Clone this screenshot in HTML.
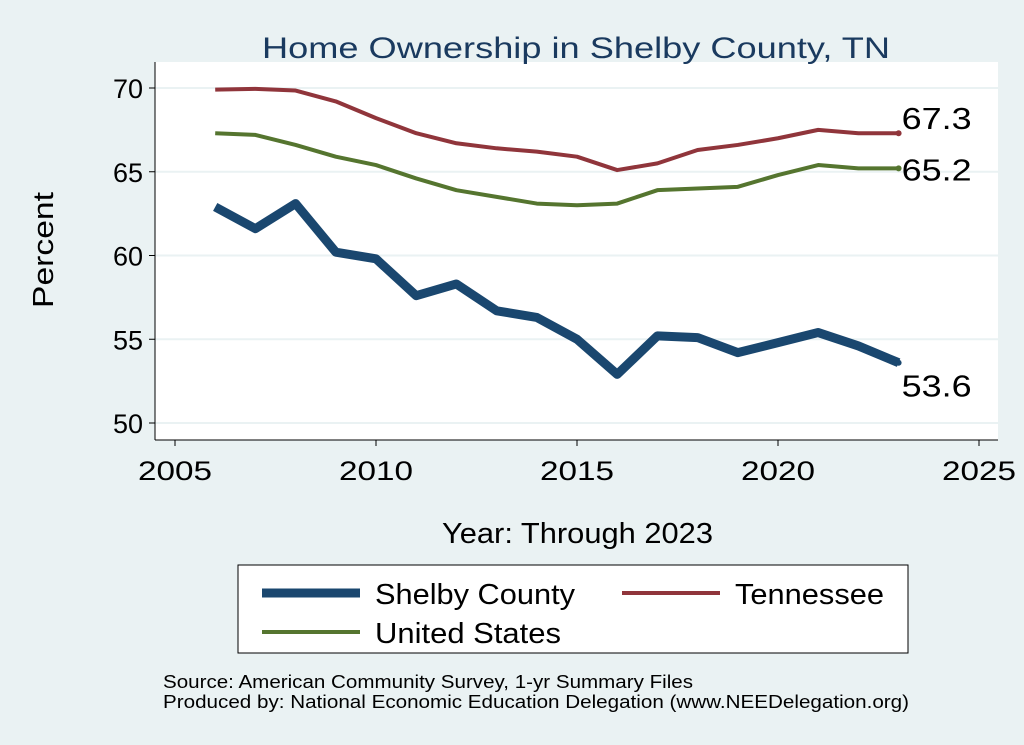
<!DOCTYPE html>
<html><head><meta charset="utf-8"><style>
body{margin:0;background:#eaf2f3;font-family:"Liberation Sans",sans-serif}
svg{display:block}
</style></head><body>
<svg id="chart" width="1024" height="745" xmlns="http://www.w3.org/2000/svg">
<rect x="0" y="0" width="1024" height="745" fill="#eaf2f3"/>
<rect x="155" y="62" width="843" height="378" fill="#fff"/>
<text x="262" y="58" font-size="30" fill="#1a3a5f" textLength="628" lengthAdjust="spacingAndGlyphs">Home Ownership in Shelby County, TN</text>
<g id="grid"></g><g id="axes"></g><g id="series"></g>
<text x="53" y="250" font-size="29" fill="#000" text-anchor="middle" textLength="116" lengthAdjust="spacingAndGlyphs" transform="rotate(-90 53 250)">Percent</text>
<text x="442" y="543" font-size="29" fill="#000" textLength="271" lengthAdjust="spacingAndGlyphs">Year: Through 2023</text>
<g>
<rect x="238" y="565" width="670" height="88" fill="#fff" stroke="#000" stroke-width="1"/>
<line x1="262" y1="593" x2="360" y2="593" stroke="#1a476f" stroke-width="9"/>
<text x="375" y="604" font-size="29" textLength="200" lengthAdjust="spacingAndGlyphs">Shelby County</text>
<line x1="622" y1="593" x2="720" y2="593" stroke="#90353b" stroke-width="4"/>
<text x="735" y="604" font-size="29" textLength="149" lengthAdjust="spacingAndGlyphs">Tennessee</text>
<line x1="262" y1="632" x2="360" y2="632" stroke="#55752f" stroke-width="4"/>
<text x="375" y="643" font-size="29" textLength="186" lengthAdjust="spacingAndGlyphs">United States</text>
</g>
<text x="163" y="688" font-size="18" textLength="530" lengthAdjust="spacingAndGlyphs">Source: American Community Survey, 1-yr Summary Files</text>
<text x="163" y="708" font-size="18" textLength="746" lengthAdjust="spacingAndGlyphs">Produced by: National Economic Education Delegation (www.NEEDelegation.org)</text>
</svg>
<script>
const years=[2006,2007,2008,2009,2010,2011,2012,2013,2014,2015,2016,2017,2018,2019,2020,2021,2022,2023];
const shelby=[62.9,61.6,63.1,60.2,59.8,57.6,58.3,56.7,56.3,55.0,52.9,55.2,55.1,54.2,54.8,55.4,54.6,53.6];
const tennessee=[69.9,69.95,69.85,69.2,68.2,67.3,66.7,66.4,66.2,65.9,65.1,65.5,66.3,66.6,67.0,67.5,67.3,67.3];
const unitedStates=[67.3,67.2,66.6,65.9,65.4,64.6,63.9,63.5,63.1,63.0,63.1,63.9,64.0,64.1,64.8,65.4,65.2,65.2];
const yTicks=[50,55,60,65,70];
const xTicks=[2005,2010,2015,2020,2025];
const NS="http://www.w3.org/2000/svg";
const xs=v=>175+(v-2005)*(979-175)/20;
const ys=v=>423-(v-50)*(423-88)/20;
function mk(tag,attrs,parent){const e=document.createElementNS(NS,tag);for(const k in attrs)e.setAttribute(k,attrs[k]);parent.appendChild(e);return e;}
const grid=document.getElementById('grid'),axes=document.getElementById('axes'),series=document.getElementById('series');
yTicks.forEach(t=>{
 const g=mk('line',{x1:155,x2:998,y1:ys(t),y2:ys(t),stroke:'#eaf2f3','stroke-width':2},grid);
 
 
 const tk=mk('line',{x1:149,x2:155,y1:ys(t),y2:ys(t),stroke:'#000'},axes);
 
 
 const l=mk('text',{x:143,y:ys(t)+10,'font-size':27,'text-anchor':'end'},axes);l.textContent=t;
 
 
});
xTicks.forEach(t=>{
 const tk=mk('line',{x1:xs(t),x2:xs(t),y1:440,y2:446,stroke:'#000'},axes);
 
 
 const l=mk('text',{x:xs(t)-37,y:480,'font-size':27,textLength:74,lengthAdjust:'spacingAndGlyphs'},axes);l.textContent=t;
 
 
});
const ya=mk('line',{x1:155,x2:155,y1:62,y2:440,stroke:'#000'},axes);


const xa=mk('line',{x1:155,x2:998,y1:440,y2:440,stroke:'#000'},axes);


function draw(vals,color,w,name,dy){
 const p=mk('polyline',{points:vals.map((v,i)=>xs(years[i])+','+ys(v)).join(' '),fill:'none',stroke:color,'stroke-width':w,'stroke-linejoin':'round'},series);
 
 
 const last=vals[vals.length-1];
 const c=mk('circle',{cx:xs(years[years.length-1]),cy:ys(last),r:3,fill:color},series);
 
 
 const t=mk('text',{x:xs(years[years.length-1])+3,y:ys(last)+dy,'font-size':31,textLength:70,lengthAdjust:'spacingAndGlyphs'},series);t.textContent=last.toFixed(1);
 
 
}
draw(unitedStates,'#55752f',4,'united-states',12);
draw(tennessee,'#90353b',4,'tennessee',-4);
draw(shelby,'#1a476f',9,'shelby-county',34);
</script>
</body></html>
